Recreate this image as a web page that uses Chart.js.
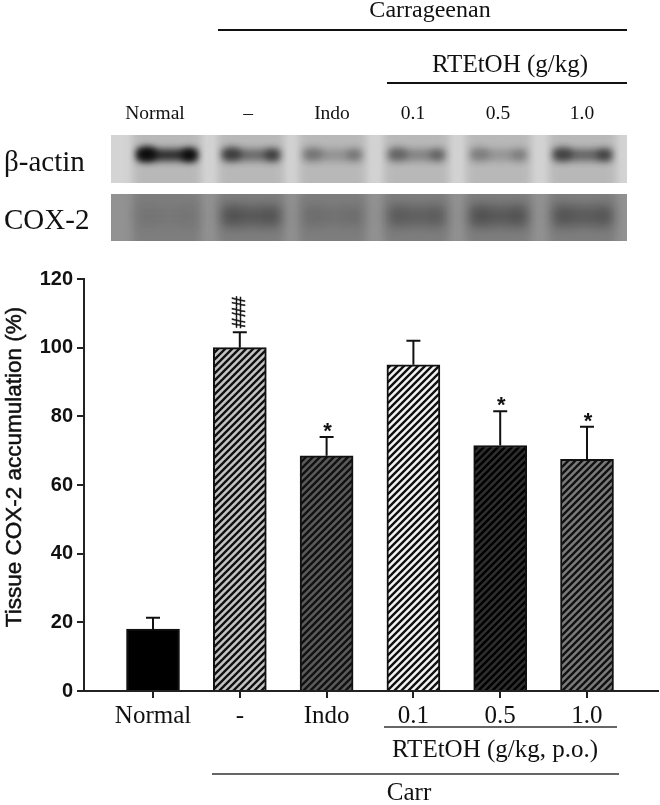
<!DOCTYPE html>
<html>
<head>
<meta charset="utf-8">
<title>COX-2</title>
<script src="https://cdn.jsdelivr.net/npm/chart.js@4/dist/chart.umd.min.js"></script>
<style>
html, body { margin: 0; padding: 0; background: #fff; }
canvas { display: block; filter: blur(0.4px); }
</style>
</head>
<body>
<canvas id="grafico" width="660" height="805"></canvas>
<script>
const categorias = ['Normal', '-', 'Indo', '0.1', '0.5', '1.0'];
const valores = [18, 100, 68.5, 95, 71.5, 67.5];
const erros = [3.3, 4.5, 5.5, 7, 10, 9.5];
const marcas = ['', '###', '*', '', '*', '*'];
const ticksY = [0, 20, 40, 60, 80, 100, 120];

// blot: intensidade da banda de cada pista (0 a 1)
const pistasBlot = ['Normal', '–', 'Indo', '0.1', '0.5', '1.0'];
const bandaActina = [0.8, 0.45, 0.22, 0.3, 0.2, 0.48];
const pontaActina = [1, 0.5, 0.22, 0.28, 0.18, 0.42];
const bandaCox = [0.08, 0.42, 0.14, 0.32, 0.42, 0.38];
const pontaCox = [0.04, 0.14, 0.06, 0.1, 0.16, 0.14];

// cor de fundo e cor das linhas de cada barra
const fundos = ['#000000', '#c4c4c4', '#5a5a5a', '#f4f4f4', '#2e2e2e', '#7a7a7a'];
const hachuras = [null, '#111111', '#111111', '#111111', '#000000', '#111111'];

function hachura(fundo, linha) {
    if (!linha) return fundo;
    const p = 7;
    const c = document.createElement('canvas');
    c.width = p;
    c.height = p;
    const g = c.getContext('2d');
    g.fillStyle = fundo;
    g.fillRect(0, 0, p, p);
    g.strokeStyle = linha;
    g.lineWidth = 2.4;
    g.beginPath();
    g.moveTo(-p, p); g.lineTo(p, -p);
    g.moveTo(0, p); g.lineTo(p, 0);
    g.moveTo(0, 2 * p); g.lineTo(2 * p, 0);
    g.stroke();
    return g.createPattern(c, 'repeat');
}

function texto(ctx, t, x, y, fonte, alinhar) {
    ctx.font = fonte;
    ctx.textAlign = alinhar || 'center';
    ctx.textBaseline = 'middle';
    ctx.fillStyle = '#111';
    ctx.fillText(t, x, y);
}

function linha(ctx, x1, x2, y, larg, cor) {
    ctx.strokeStyle = cor;
    ctx.lineWidth = larg;
    ctx.beginPath();
    ctx.moveTo(x1, y);
    ctx.lineTo(x2, y);
    ctx.stroke();
}

function painelBlot(ctx, y, alt, fundo, claro, faixas, pontas, yBanda, altBanda, base, borrao) {
    const lanes = [[137, 197], [222, 280], [303, 362], [388, 445], [470, 527], [553, 612]];
    const cor = a => `rgba(${base},${base},${base},${a})`;
    ctx.save();
    ctx.beginPath();
    ctx.rect(111, y, 516, alt);
    ctx.clip();
    ctx.fillStyle = claro;
    ctx.fillRect(111, y, 516, alt);
    ctx.filter = 'blur(4px)';
    lanes.forEach(l => {
        ctx.fillStyle = fundo;
        ctx.fillRect(l[0] - 4, y - 10, l[1] - l[0] + 8, alt + 20);
    });
    ctx.filter = `blur(${borrao}px)`;
    lanes.forEach((l, i) => {
        ctx.fillStyle = cor(faixas[i]);
        ctx.fillRect(l[0], yBanda - altBanda, l[1] - l[0], altBanda * 2);
        // pontas mais escuras da banda
        ctx.fillStyle = cor(pontas[i]);
        ctx.beginPath();
        ctx.ellipse(l[0] + 10, yBanda - 1, 10, altBanda + 1, 0, 0, 2 * Math.PI);
        ctx.ellipse(l[1] - 8, yBanda, 8, altBanda, 0, 0, 2 * Math.PI);
        ctx.fill();
    });
    ctx.restore();
}

const anotacoes = {
    id: 'anotacoes',
    afterDraw(chart) {
        const ctx = chart.ctx;
        const xs = chart.scales.x;
        const ys = chart.scales.y;
        const serif = '"Liberation Serif"';

        // barras de erro e significancia
        valores.forEach((v, i) => {
            const x = xs.getPixelForValue(i);
            const yTop = ys.getPixelForValue(v + erros[i]);
            const yBar = ys.getPixelForValue(v);
            ctx.strokeStyle = '#111';
            ctx.lineWidth = 2;
            ctx.beginPath();
            ctx.moveTo(x, yBar);
            ctx.lineTo(x, yTop);
            ctx.moveTo(x - 7, yTop);
            ctx.lineTo(x + 7, yTop);
            ctx.stroke();
            if (marcas[i] === '*') {
                texto(ctx, '*', x + 1, yTop - 5, 'bold 22px "Liberation Sans"');
            } else if (marcas[i]) {
                ctx.save();
                ctx.translate(x, yTop - 20);
                ctx.rotate(-Math.PI / 2);
                texto(ctx, marcas[i], 0, 0, '19px "Liberation Sans"');
                ctx.lineWidth = 0.5;
                ctx.strokeStyle = '#111';
                ctx.strokeText(marcas[i], 0, 0);
                ctx.restore();
            }
        });

        // titulo do eixo Y
        ctx.save();
        ctx.translate(15, 467);
        ctx.rotate(-Math.PI / 2);
        texto(ctx, 'Tissue COX-2 accumulation (%)', 0, 0, '22.5px "Liberation Sans"');
        ctx.lineWidth = 0.5;
        ctx.strokeStyle = '#111';
        ctx.strokeText('Tissue COX-2 accumulation (%)', 0, 0);
        ctx.restore();

        // cabecalho do blot
        texto(ctx, 'Carrageenan', 430, 11, '24px ' + serif);
        linha(ctx, 218, 627, 30, 2, '#111');
        texto(ctx, 'RTEtOH (g/kg)', 510, 65, '25px ' + serif);
        linha(ctx, 387, 627, 83, 2, '#111');
        const xPistas = [155, 248, 332, 413, 498, 582];
        pistasBlot.forEach((p, i) => texto(ctx, p, xPistas[i], 114, '19.5px ' + serif));
        texto(ctx, 'β-actin', 4, 163, '29px ' + serif, 'left');
        texto(ctx, 'COX-2', 4, 221, '29px ' + serif, 'left');

        painelBlot(ctx, 135, 48, '#b8b8b8', '#d4d4d4', bandaActina, pontaActina, 155, 6, 10, 3.5);
        painelBlot(ctx, 194, 47, '#7e7e7e', '#929292', bandaCox, pontaCox, 216, 10, 35, 6);

        // grupos abaixo do eixo X
        linha(ctx, 384, 617, 727, 1.6, '#333');
        texto(ctx, 'RTEtOH (g/kg, p.o.)', 495, 750, '25px ' + serif);
        linha(ctx, 212, 619, 774, 1.6, '#333');
        texto(ctx, 'Carr', 409, 793, '25px ' + serif);
    }
};

new Chart(document.getElementById('grafico').getContext('2d'), {
    type: 'bar',
    data: {
        datasets: [{
            data: valores.map((v, i) => ({ x: i, y: v })),
            backgroundColor: fundos.map((f, i) => hachura(f, hachuras[i])),
            borderColor: '#111',
            borderWidth: 2,
            barThickness: 53
        }]
    },
    options: {
        responsive: false,
        animation: false,
        devicePixelRatio: 1,
        layout: { padding: { top: 279, right: 2, left: 0, bottom: 0 } },
        plugins: { legend: { display: false }, tooltip: { enabled: false } },
        scales: {
            x: {
                type: 'linear',
                offset: false,
                min: -0.795,
                max: 5.818,
                afterBuildTicks(s) { s.ticks = categorias.map((c, i) => ({ value: i })); },
                afterFit(s) { s.height = 114; },
                grid: { offset: false, drawOnChartArea: false, color: '#222', lineWidth: 2, tickLength: 7 },
                border: { color: '#222', width: 2 },
                ticks: {
                    callback: v => categorias[v],
                    autoSkip: false,
                    maxRotation: 0,
                    padding: 3,
                    color: '#111',
                    font: { family: '"Liberation Serif"', size: 25 }
                }
            },
            y: {
                min: 0,
                max: 120,
                afterBuildTicks(s) { s.ticks = ticksY.map(v => ({ value: v })); },
                afterFit(s) { s.width = 84; },
                grid: { drawOnChartArea: false, color: '#222', lineWidth: 2, tickLength: 7 },
                border: { color: '#222', width: 2 },
                ticks: {
                    padding: 4,
                    color: '#111',
                    font: { family: '"Liberation Sans"', size: 20, weight: 'bold' }
                }
            }
        }
    },
    plugins: [anotacoes]
});
</script>
</body>
</html>
